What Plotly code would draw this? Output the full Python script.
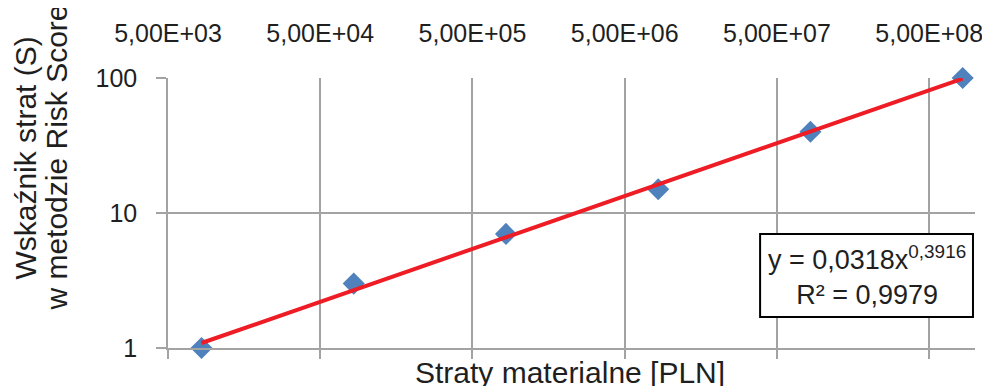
import math
import plotly.graph_objects as go

# Data
straty_pln = [8.3e3, 8.3e4, 8.3e5, 8.3e6, 8.3e7, 8.3e8]
wskaznik_s = [1, 3, 7, 15, 40, 100]

x_tick_vals = [5e3, 5e4, 5e5, 5e6, 5e7, 5e8]
x_tick_text = ["5,00E+03", "5,00E+04", "5,00E+05", "5,00E+06", "5,00E+07", "5,00E+08"]
y_tick_vals = [1, 10, 100]
y_tick_text = ["1", "10", "100"]

# Power trendline coefficients shown on the chart
fit_a = 0.0318
fit_b = 0.3916
fit_x = [straty_pln[0], straty_pln[-1]]
fit_y = [fit_a * v ** fit_b for v in fit_x]

GRID = "#A3A3A3"
TXT = "#1F1F1F"
FONT = "Liberation Sans, Arial, sans-serif"

xrange = [math.log10(5e3), 9.0]

fig = go.Figure()
fig.add_trace(go.Scatter(
    x=straty_pln, y=wskaznik_s, mode="markers",
    marker=dict(symbol="diamond", size=17, color="#4F81BD"),
    cliponaxis=False, showlegend=False, hoverinfo="x+y"))
fig.add_trace(go.Scatter(
    x=fit_x, y=fit_y, mode="lines",
    line=dict(color="#EE1C25", width=4),
    cliponaxis=False, showlegend=False, hoverinfo="skip"))
# invisible helper trace for the top tick-label axis
fig.add_trace(go.Scatter(
    x=straty_pln, y=wskaznik_s, mode="markers", xaxis="x2",
    marker=dict(opacity=0), showlegend=False, hoverinfo="skip"))

fig.update_layout(
    width=990, height=386,
    margin=dict(l=159.5, r=23, t=70, b=46, autoexpand=False),
    paper_bgcolor="white", plot_bgcolor="white",
    font=dict(family=FONT, color=TXT),
    xaxis=dict(
        type="log", range=xrange,
        tickvals=x_tick_vals, showticklabels=False,
        ticks="outside", ticklen=9, tickcolor=GRID, tickwidth=1.5,
        showgrid=True, gridcolor=GRID, gridwidth=1.5,
        showline=True, linecolor=GRID, linewidth=1.5,
        zeroline=False,
    ),
    xaxis2=dict(
        type="log", range=xrange, overlaying="x", side="top", anchor="y",
        tickvals=x_tick_vals, ticktext=x_tick_text,
        tickfont=dict(size=25, color=TXT, family=FONT),
        ticks="", showgrid=False, showline=False, zeroline=False,
        ticklabelstandoff=30,
    ),
    yaxis=dict(
        type="log", range=[0, 2],
        tickvals=y_tick_vals, ticktext=y_tick_text,
        tickfont=dict(size=25, color=TXT, family=FONT),
        ticks="outside", ticklen=10, tickcolor=GRID, tickwidth=1.5,
        showgrid=True, gridcolor=GRID, gridwidth=1.5,
        showline=True, linecolor=GRID, linewidth=1.5,
        zeroline=False, ticklabelstandoff=14,
    ),
    shapes=[dict(
        type="rect", xref="paper", yref="paper",
        x0=0.7337, x1=0.9975, y0=0.1148, y1=0.4222,
        line=dict(color="black", width=2), fillcolor="white", layer="above",
    )],
    annotations=[
        dict(
            text="y = 0,0318x<sup>0,3916</sup><br>R² = 0,9979",
            xref="paper", yref="paper", x=0.8656, y=0.2685,
            xanchor="center", yanchor="middle", showarrow=False,
            font=dict(size=27, color=TXT, family=FONT), align="center",
        ),
        dict(
            text="Straty materialne [PLN]",
            xref="paper", yref="paper", x=0.498, y=-0.089,
            xanchor="center", yanchor="middle", showarrow=False,
            font=dict(size=30, color=TXT, family=FONT),
        ),
        dict(
            text="Wskaźnik strat (S)",
            xref="paper", yref="paper", x=-0.1777, y=0.7037,
            xanchor="center", yanchor="middle", showarrow=False, textangle=-90,
            font=dict(size=30, color=TXT, family=FONT),
        ),
        dict(
            text="w metodzie Risk Score",
            xref="paper", yref="paper", x=-0.1393, y=0.7037,
            xanchor="center", yanchor="middle", showarrow=False, textangle=-90,
            font=dict(size=30, color=TXT, family=FONT),
        ),
    ],
)

fig.write_html("out.html")
